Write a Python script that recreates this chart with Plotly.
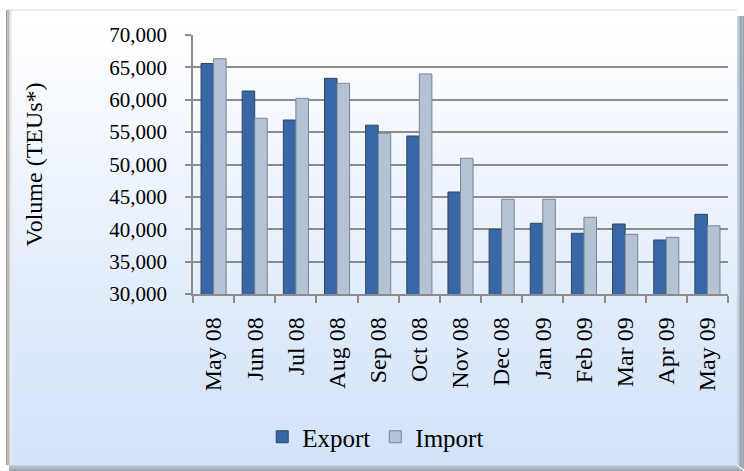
import plotly.graph_objects as go

# ---- data ----
months = ["May 08", "Jun 08", "Jul 08", "Aug 08", "Sep 08", "Oct 08", "Nov 08",
          "Dec 08", "Jan 09", "Feb 09", "Mar 09", "Apr 09", "May 09"]
export_vals = [65600, 61350, 56870, 63310, 56080, 54400, 45750,
               39990, 40920, 39380, 40810, 38340, 42310]
import_vals = [66340, 57140, 60220, 62540, 54820, 63980, 50960,
               44630, 44630, 41850, 39220, 38750, 40530]
y_ticks = [30000, 35000, 40000, 45000, 50000, 55000, 60000, 65000, 70000]

# ---- layout geometry ----
W, H = 744, 471
ML, MR, MT, MB = 193, 16, 35, 177
PW, PH = W - ML - MR, H - MT - MB
FONT = "Liberation Serif"


def px_x(px):
    return (px - ML) / PW


def px_y(py):
    return (H - MB - py) / PH


def mix(c1, c2, t):
    return "rgb(%d,%d,%d)" % tuple(round(a + (b - a) * t) for a, b in zip(c1, c2))


shapes = []
# background gradient of the chart frame
top_c, bot_c = (255, 255, 255), (209, 226, 249)
fx0, fx1, fy0, fy1 = 7, 737, 10, 465
n = 60
for i in range(n):
    y0 = fy0 + (fy1 - fy0) * i / n
    y1 = fy0 + (fy1 - fy0) * (i + 1) / n + 0.6
    shapes.append(dict(type="rect", xref="paper", yref="paper", layer="below",
                       x0=px_x(fx0), x1=px_x(fx1), y0=px_y(y1), y1=px_y(y0),
                       line=dict(width=0), fillcolor=mix(top_c, bot_c, i / (n - 1))))
# frame top line
shapes.append(dict(type="line", xref="paper", yref="paper", layer="below",
                   x0=px_x(fx0), x1=px_x(fx1), y0=px_y(fy0), y1=px_y(fy0),
                   line=dict(width=1, color="#d8d8d8")))
# shadows: left, right, bottom
for k, c in enumerate(["#9a9a9a", "#b8b8b8", "#d6d6d6", "#ececec"]):
    shapes.append(dict(type="rect", xref="paper", yref="paper", layer="below",
                       x0=px_x(fx0 - 1 + k * 1.5), x1=px_x(fx0 + 0.5 + k * 1.5),
                       y0=px_y(fy1), y1=px_y(fy0), line=dict(width=0), fillcolor=c))
for k, c in enumerate(["#c4d3e8", "#aab8cb", "#97a4b6", "#8e99a8", "#9aa3af"]):
    shapes.append(dict(type="rect", xref="paper", yref="paper", layer="below",
                       x0=px_x(fx1 + k * 1.4), x1=px_x(fx1 + (k + 1) * 1.4),
                       y0=px_y(fy1 + k), y1=px_y(fy0 + 6), line=dict(width=0), fillcolor=c))
for k, c in enumerate(["#c0cee2", "#a7b4c6", "#939fb0", "#8b96a5", "#98a1ad"]):
    shapes.append(dict(type="rect", xref="paper", yref="paper", layer="below",
                       x0=px_x(fx0 + 2), x1=px_x(fx1 + k * 1.4),
                       y0=px_y(fy1 + (k + 1) * 1.2), y1=px_y(fy1 + k * 1.2),
                       line=dict(width=0), fillcolor=c))

fig = go.Figure()
fig.add_trace(go.Bar(x=months, y=export_vals, name="Export",
                     marker=dict(color="#3767a6", line=dict(color="#33465f", width=1))))
fig.add_trace(go.Bar(x=months, y=import_vals, name="Import",
                     marker=dict(color="#b4c2d6", line=dict(color="#7a8596", width=1))))

fig.update_layout(
    width=W, height=H,
    margin=dict(l=ML, r=MR, t=MT, b=MB),
    paper_bgcolor="white",
    plot_bgcolor="rgba(0,0,0,0)",
    barmode="group", bargap=0.39, bargroupgap=0.0,
    font=dict(family=FONT, color="black", size=21),
    shapes=shapes,
    showlegend=True,
    legend=dict(orientation="h", xref="container", yref="container",
                x=0.505, xanchor="center", y=1 - 437 / H, yanchor="middle",
                bgcolor="rgba(0,0,0,0)", font=dict(size=25, family=FONT),
                itemclick=False, traceorder="normal"),
    xaxis=dict(type="category", tickson="boundaries", ticks="outside", ticklen=7,
               tickcolor="#8c8c8c", tickwidth=1.5,
               showline=True, linecolor="#8c8c8c", linewidth=1.5,
               showgrid=False, tickangle=-90, ticklabelstandoff=12,
               tickfont=dict(size=24, family=FONT)),
    yaxis=dict(range=[30000, 70000], tickvals=y_ticks, tickformat=",d",
               ticks="outside", ticklen=6, tickcolor="#8c8c8c", tickwidth=1.5,
               showline=True, linecolor="#8c8c8c", linewidth=1.5,
               showgrid=True, gridcolor="#8c8c8c", gridwidth=1.5,
               zeroline=False, ticklabelstandoff=14,
               tickfont=dict(size=21, family=FONT),
               title=dict(text="Volume (TEUs*)", standoff=60,
                          font=dict(size=24, family=FONT))),
)

fig.write_html("out.html")
